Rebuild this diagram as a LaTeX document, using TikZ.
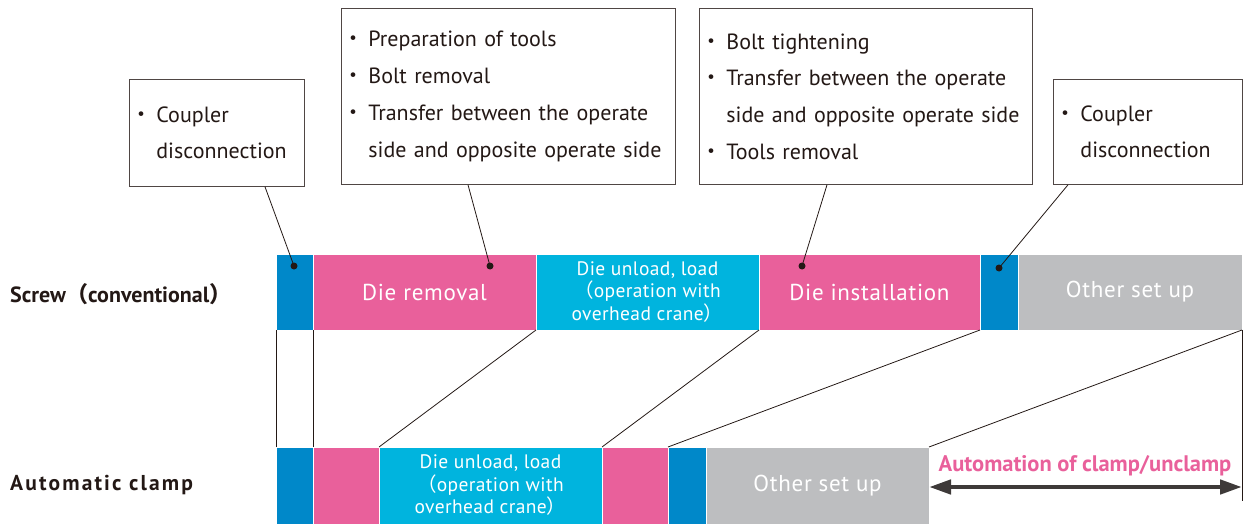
\documentclass[tikz,border=0pt]{standalone}
\usepackage{fontspec}
\setmainfont{PT Sans}
\newfontfamily\cjk{Noto Sans CJK JP}
\usetikzlibrary{positioning,arrows.meta}

\definecolor{cblue}{RGB}{0,136,201}
\definecolor{cpink}{RGB}{233,96,155}
\definecolor{ccyan}{RGB}{0,180,222}
\definecolor{cgray}{RGB}{189,190,192}
\definecolor{cink}{RGB}{35,24,21}
\definecolor{carrow}{RGB}{62,58,57}

\newcommand{\bul}{\makebox[19pt][l]{\hspace{4pt}\makebox[0pt][c]{\cjk ・}}}
\newcommand{\ind}{\hspace*{19pt}}

\tikzset{
  x=1pt, y=-1pt,
  seg/.style={rectangle, inner sep=0pt, outer sep=0pt, draw=white, line width=0.8pt,
    text=white, align=center, font=\fontsize{23}{27}\selectfont\addfontfeatures{LetterSpace=3}},
  toprow/.style={minimum height=76pt},
  botrow/.style={minimum height=77pt},
  note/.style={rectangle, draw=cink!80, line width=0.8pt, fill=white, text=cink,
    inner xsep=8pt, inner ysep=0pt, align=left, anchor=north west,
    font=\fontsize{22}{36.7}\selectfont},
  lead/.style={draw=cink, line width=0.8pt},
  pin/.style={circle, fill=cink, inner sep=0pt, minimum size=7pt},
  small/.style={font=\fontsize{19.5}{22.5}\selectfont\addfontfeatures{LetterSpace=2}},
  rowlabel/.style={anchor=base west, inner sep=0pt, text=cink},
}

\begin{document}
\begin{tikzpicture}
  \useasboundingbox (0,0) rectangle (1244,524);

  % screw (conventional)
  \node[seg, toprow, fill=cblue, minimum width=37pt, anchor=north west] (s1) at (276,254) {};
  \node[seg, toprow, fill=cpink, minimum width=223pt, right=0pt of s1] (s2) {Die removal};
  \node[seg, toprow, fill=ccyan, minimum width=223pt, right=0pt of s2, small] (s3)
    {Die unload, load\\{\cjk （}operation with\\overhead crane{\cjk ）}};
  \node[seg, toprow, fill=cpink, minimum width=221pt, right=0pt of s3] (s4) {Die installation};
  \node[seg, toprow, fill=cblue, minimum width=38pt, right=0pt of s4] (s5) {};
  \node[seg, toprow, fill=cgray, minimum width=224pt, right=0pt of s5] (s6) {Other set up};

  % automatic clamp
  \node[seg, botrow, fill=cblue, minimum width=37pt, anchor=north west] (b1) at (276,447) {};
  \node[seg, botrow, fill=cpink, minimum width=66pt, right=0pt of b1] (b2) {};
  \node[seg, botrow, fill=ccyan, minimum width=223pt, right=0pt of b2, small] (b3)
    {Die unload, load\\{\cjk （}operation with\\overhead crane{\cjk ）}};
  \node[seg, botrow, fill=cpink, minimum width=66pt, right=0pt of b3] (b4) {};
  \node[seg, botrow, fill=cblue, minimum width=38pt, right=0pt of b4] (b5) {};
  \node[seg, botrow, fill=cgray, minimum width=223pt, right=0pt of b5] (b6) {Other set up};

  % row labels
  \node[rowlabel, font=\bfseries\fontsize{22}{26}\selectfont] (lscrew) at (10,302)
    {Screw{\cjk （}conventional{\cjk ）}};
  \node[rowlabel, font=\bfseries\fontsize{21.5}{26}\selectfont\addfontfeatures{LetterSpace=10}] (lclamp) at (10,490)
    {Automatic clamp};

  % links between rows
  \draw[lead] (s1.south west) -- (b1.north west);
  \draw[lead] (s1.south east) -- (b1.north east);
  \draw[lead] (s2.south east) -- (b3.north west);
  \draw[lead] (s3.south east) -- (b4.north west);
  \draw[lead] (s4.south east) -- (b5.north west);
  \draw[lead] (s6.south east) -- (b6.north east);
  \coordinate (tick) at (1242,501);
  \draw[lead] (s6.south east) -- (tick);

  % automation arrow
  \coordinate (aL) at (929,487);
  \coordinate (aR) at (1242,487);
  \draw[carrow, line width=4.5pt, {Triangle[length=22pt,width=14pt]}-{Triangle[length=22pt,width=14pt]}] (aL) -- (aR);
  \node[text=cpink, font=\bfseries\fontsize{22.5}{26}\selectfont] (lauto) at (1085,466) {Automation of clamp/unclamp};

  % callouts
  \node[note, text width=159pt, minimum height=107pt] (c1) at (129,79)
    {\bul Coupler\\ \ind disconnection};
  \node[note, text width=318pt, minimum height=176pt] (c2) at (341,8)
    {\bul Preparation of tools\\ \bul Bolt removal\\ \bul Transfer between the operate\\ \ind side and opposite operate side};
  \node[note, text width=317pt, minimum height=176pt] (c3) at (699,8)
    {\bul Bolt tightening\\ \bul Transfer between the operate\\ \ind side and opposite operate side\\ \bul Tools removal};
  \node[note, text width=173pt, minimum height=105pt] (c4) at (1053,79)
    {\bul Coupler\\ \ind disconnection};

  \node[pin] (p1) at (294,266) {};
  \node[pin] (p2) at (490,266) {};
  \node[pin] (p3) at (802,266) {};
  \node[pin] (p4) at (999,268) {};

  \draw[lead] ([xshift=136pt]c1.south west) -- (p1.center);
  \draw[lead] ([xshift=127pt]c2.south west) -- (p2.center);
  \draw[lead] ([xshift=128pt]c3.south west) -- (p3.center);
  \draw[lead] ([xshift=15pt]c4.south west) -- (p4.center);
\end{tikzpicture}
\end{document}
